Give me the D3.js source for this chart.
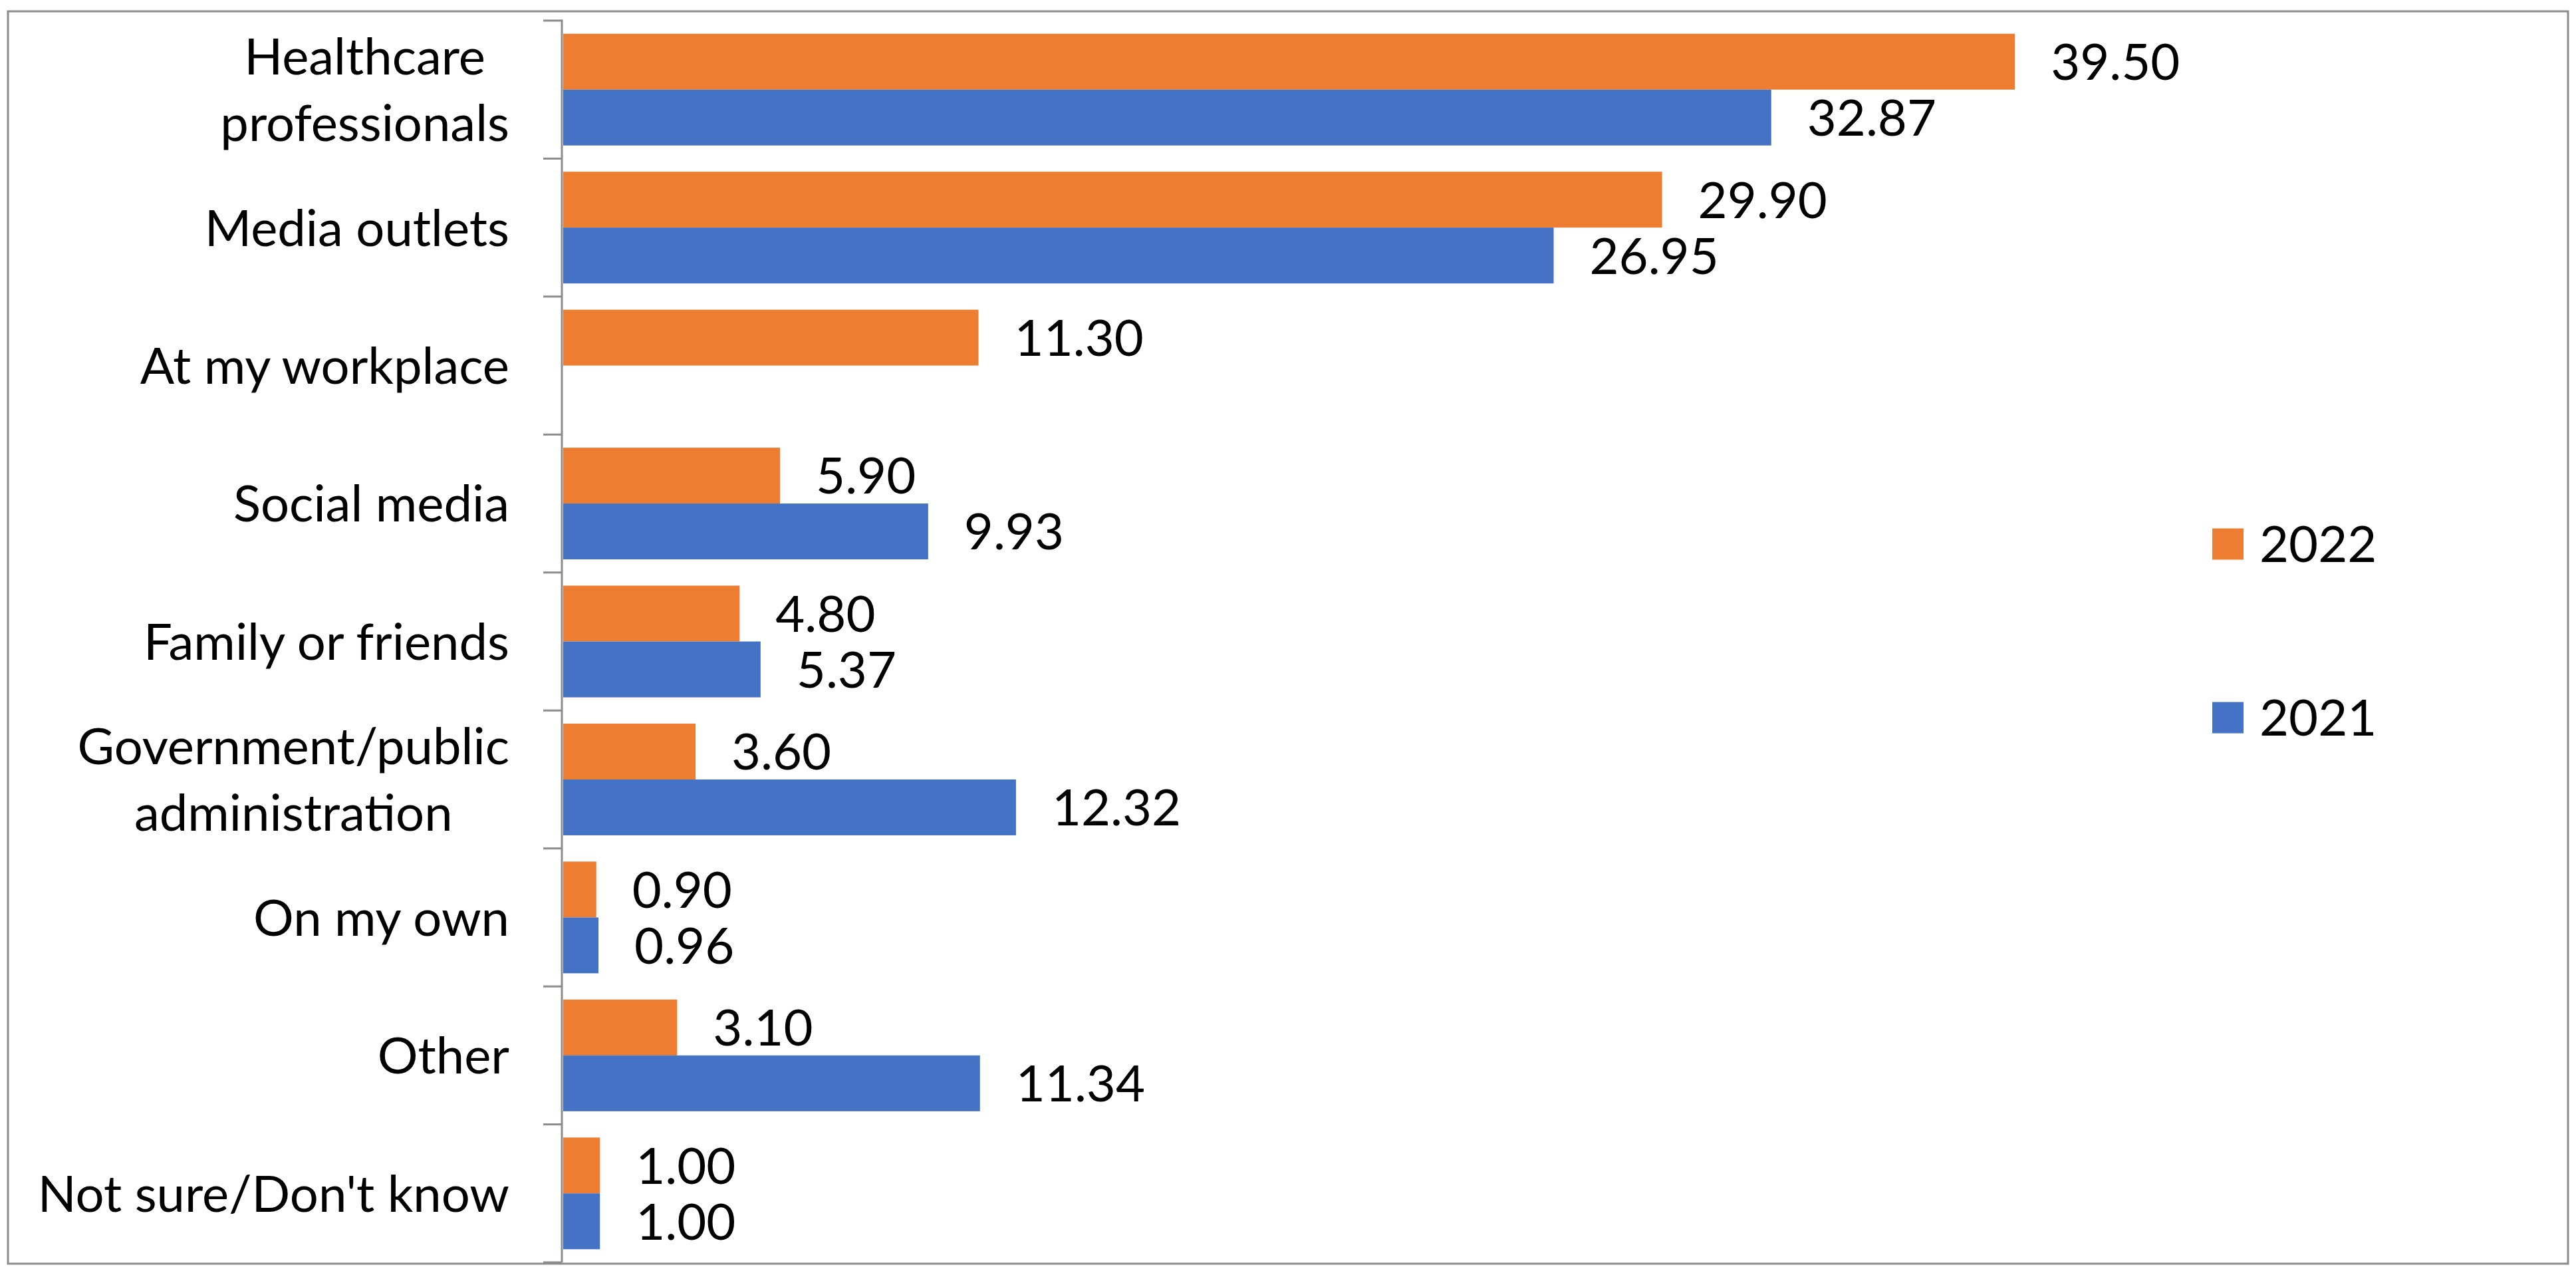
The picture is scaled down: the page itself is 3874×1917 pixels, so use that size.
<!DOCTYPE html>
<html>
<head>
<meta charset="utf-8">
<script src="https://cdn.jsdelivr.net/npm/d3@7"></script>
<style>
  html, body { margin: 0; padding: 0; background: #ffffff; }
  svg { display: block; }
  text { font-family: Lato, "Noto Sans", sans-serif; fill: #000000; }
</style>
</head>
<body>
<svg id="chart" width="3874" height="1917"></svg>
<script>
// ---- data ----
const categories = [
  "Healthcare\nprofessionals",
  "Media outlets",
  "At my workplace",
  "Social media",
  "Family or friends",
  "Government/public\nadministration",
  "On my own",
  "Other",
  "Not sure/Don't know"
];
const seriesNames = ["2022", "2021"];
const values2022 = [39.50, 29.90, 11.30, 5.90, 4.80, 3.60, 0.90, 3.10, 1.00];
const values2021 = [32.87, 26.95, null, 9.93, 5.37, 12.32, 0.96, 11.34, 1.00];
const seriesColors = ["#ED7D31", "#4472C4"];

// ---- layout ----
const W = 3874, H = 1917;
const axisX = 847;
const plotTop = 31, plotBottom = 1898;
const fontSize = 76;
const gray = "#8c8c8c";

const svg = d3.select("#chart");

// outer border
svg.append("rect")
  .attr("x", 12).attr("y", 17)
  .attr("width", 3850).attr("height", 1883)
  .attr("fill", "none").attr("stroke", gray).attr("stroke-width", 3);

const x = d3.scaleLinear().domain([0, 45]).range([axisX, axisX + 45 * 55.27]);
const y = d3.scaleBand().domain(categories).range([plotTop, plotBottom]).paddingInner(0).paddingOuter(0);
const ySub = d3.scaleBand().domain(seriesNames).range([0, y.bandwidth()]).paddingInner(0).paddingOuter(0.235);

const valuesBySeries = { "2022": values2022, "2021": values2021 };
const colorScale = d3.scaleOrdinal().domain(seriesNames).range(seriesColors);

// bars
const barData = [];
categories.forEach((c, i) => {
  seriesNames.forEach(s => {
    const v = valuesBySeries[s][i];
    if (v !== null && v !== undefined) barData.push({ cat: c, series: s, value: v });
  });
});

svg.append("g").selectAll("rect")
  .data(barData).join("rect")
  .attr("x", x(0))
  .attr("y", d => y(d.cat) + ySub(d.series))
  .attr("width", d => x(d.value) - x(0))
  .attr("height", ySub.bandwidth())
  .attr("fill", d => colorScale(d.series));

// data labels
svg.append("g").selectAll("text")
  .data(barData).join("text")
  .attr("x", d => x(d.value) + 54)
  .attr("y", d => y(d.cat) + ySub(d.series) + ySub.bandwidth() / 2)
  .attr("dy", "0.36em")
  .attr("font-size", fontSize)
  .text(d => d3.format(".2f")(d.value));

// vertical axis with ticks at band boundaries
const axisG = svg.append("g");
axisG.append("line")
  .attr("x1", axisX - 2).attr("x2", axisX - 2)
  .attr("y1", plotTop - 1.5).attr("y2", plotBottom)
  .attr("stroke", gray).attr("stroke-width", 3);
const boundaries = categories.map(c => y(c)).concat([plotBottom]);
axisG.selectAll("line.tick")
  .data(boundaries).join("line")
  .attr("class", "tick")
  .attr("x1", axisX - 30).attr("x2", axisX - 2)
  .attr("y1", d => d).attr("y2", d => d)
  .attr("stroke", gray).attr("stroke-width", 3);

// category labels (right aligned block, lines centered on each other)
const labelRight = 766;
const lineH = 100;
categories.forEach(c => {
  const lines = c.split("\n");
  const cy = y(c) + y.bandwidth() / 2;
  const g = svg.append("g");
  const texts = lines.map((ln, k) =>
    g.append("text")
      .attr("font-size", fontSize)
      .attr("y", cy + (k - (lines.length - 1) / 2) * lineH)
      .attr("dy", "0.36em")
      .attr("text-anchor", "middle")
      .text(ln)
  );
  const maxW = d3.max(texts, t => t.node().getComputedTextLength());
  texts.forEach(t => t.attr("x", labelRight - maxW / 2));
});

// legend
const legendOrder = ["2022", "2021"];
const legendY = { "2022": 818, "2021": 1079 };
const lg = svg.append("g");
legendOrder.forEach(s => {
  lg.append("rect")
    .attr("x", 3327).attr("y", legendY[s] - 23.5)
    .attr("width", 47).attr("height", 47)
    .attr("fill", colorScale(s));
  lg.append("text")
    .attr("x", 3398).attr("y", legendY[s])
    .attr("dy", "0.36em")
    .attr("font-size", fontSize)
    .text(s);
});
</script>
</body>
</html>
